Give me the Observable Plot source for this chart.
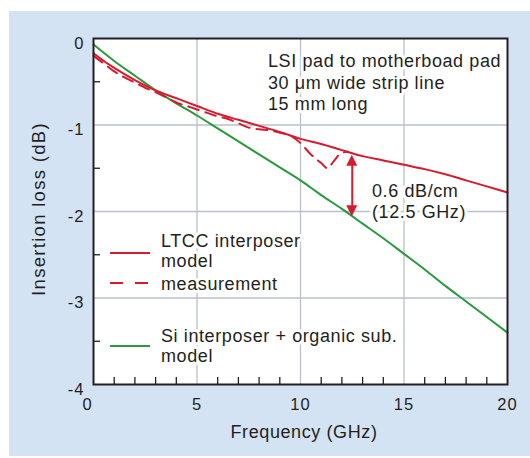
<!DOCTYPE html>
<html><head><meta charset="utf-8">
<script src="https://cdn.jsdelivr.net/npm/d3@7"></script>
<script src="https://cdn.jsdelivr.net/npm/@observablehq/plot@0.6"></script>
<style>
html,body{margin:0;padding:0;background:#fff;}
#wrap{position:relative;width:530px;height:458px;overflow:hidden;}
#panel{position:absolute;left:9px;top:11px;width:521px;height:445px;background:#d4e3f4;}
#chart{position:absolute;left:0;top:0;}
#chart svg text{letter-spacing:0.6px;}
#chart g[aria-label="x-axis tick label"] text, #chart g[aria-label="y-axis tick label"] text{letter-spacing:1px;}
</style></head><body>
<div id="wrap"><div id="panel"></div><div id="chart"></div></div>
<script>
// ---- data ----
const ltccFreq = [0,0.5,1,2,3,4,5,6,7,8,9,10,11,12,13,14,15,16,17,18,19,20];
const ltccLoss = [-0.17,-0.26,-0.34,-0.48,-0.60,-0.69,-0.78,-0.87,-0.94,-1.01,-1.08,-1.16,-1.22,-1.29,-1.36,-1.41,-1.46,-1.51,-1.57,-1.64,-1.71,-1.78];
const measFreq = [0,0.5,1,1.5,2,2.5,3,3.5,4,4.5,5,5.5,6,6.5,7,7.5,8,8.5,9,9.5,10,10.5,11,11.3,11.6,12,12.3];
const measLoss = [-0.20,-0.29,-0.38,-0.45,-0.51,-0.57,-0.62,-0.68,-0.74,-0.78,-0.82,-0.86,-0.90,-0.93,-0.98,-1.03,-1.05,-1.06,-1.09,-1.12,-1.21,-1.34,-1.44,-1.50,-1.42,-1.32,-1.31];
const siFreq = [0,1,2,3,4,5,6,7,8,9,10,11,12,13,14,15,16,17,18,19,20];
const siLoss = [-0.07,-0.26,-0.43,-0.60,-0.75,-0.89,-1.04,-1.19,-1.34,-1.49,-1.64,-1.81,-1.97,-2.14,-2.31,-2.49,-2.67,-2.86,-3.04,-3.22,-3.40];
const xTicks = [0,5,10,15,20];
const yTicks = [0,-1,-2,-3,-4];
const xGridVals = [5,10,15];
const yGridVals = [-1,-2,-3];
const xMinor = [1,2,3,4,6,7,8,9,11,12,13,14,16,17,18,19];
const yMinor = [-0.5,-1.5,-2.5,-3.5];
const arrowFreq = [12.5];
const arrowTop = [-1.35];
const arrowBottom = [-2.06];
const noteLines = ["LSI pad to motherboad pad", "30\u00a0\u03bcm wide strip line", "15 mm long"];
const arrowNote = ["0.6 dB/cm", "(12.5 GHz)"];
const legendLabels = [["LTCC interposer","model"],["measurement"],["Si interposer + organic sub.","model"]];
const xTitle = "Frequency (GHz)";
const yTitle = "Insertion loss (dB)";

const red = "#d71a2e", green = "#2a9a3c", ink = "#231f20", gridColor = "#b9c0cb";
const font = "'Liberation Sans', Arial, Helvetica, sans-serif";

const ltcc = ltccFreq.map((f,i)=>({f, v: ltccLoss[i]}));
const meas = measFreq.map((f,i)=>({f, v: measLoss[i]}));
const si = siFreq.map((f,i)=>({f, v: siLoss[i]}));
const arrow = arrowFreq.map((f,i)=>({f, top: arrowTop[i], bottom: arrowBottom[i]}));

const plot = Plot.plot({
  width: 530, height: 458,
  marginLeft: 93, marginRight: 23, marginTop: 38, marginBottom: 74,
  style: {background: "transparent", fontFamily: font, color: ink, overflow: "visible"},
  x: {domain: [0,20], label: null},
  y: {domain: [-4,0], label: null},
  marks: [
    Plot.frame({fill: "white"}),
    Plot.gridX(xGridVals, {stroke: gridColor, strokeOpacity: 1, strokeWidth: 1.3}),
    Plot.gridY(yGridVals, {stroke: gridColor, strokeOpacity: 1, strokeWidth: 1.3}),
    Plot.tickX(xMinor, {x: d=>d, stroke: ink, strokeWidth: 1.3, insetTop: 339}),
    Plot.tickY(yMinor, {y: d=>d, stroke: ink, strokeWidth: 1.3, insetRight: 407}),
    Plot.axisX(xTicks.slice(0,1), {tickSize: 0, tickPadding: 14, dx: -6, fontSize: 16.5, tickFormat: d=>String(d), fill: ink}),
    Plot.axisX(xTicks.slice(1), {tickSize: 0, tickPadding: 14, fontSize: 16.5, tickFormat: d=>String(d), fill: ink}),
    Plot.axisY(yTicks, {tickSize: 0, tickPadding: 9, dy: 5, fontSize: 16.5, tickFormat: d=>String(d), fill: ink}),
    Plot.line(si, {x: "f", y: "v", stroke: green, strokeWidth: 2, curve: "monotone-x"}),
    Plot.line(ltcc, {x: "f", y: "v", stroke: red, strokeWidth: 2, curve: "monotone-x"}),
    Plot.line(meas, {x: "f", y: "v", stroke: red, strokeWidth: 2, curve: "monotone-x", strokeDasharray: "11,7"}),
    Plot.ruleX(arrow, {x: "f", y1: "top", y2: "bottom", stroke: red, strokeWidth: 2, insetTop: 6, insetBottom: 6}),
    Plot.frame({stroke: ink, strokeWidth: 2})
  ]
});
document.getElementById("chart").appendChild(plot);

const svg = d3.select(plot);
const sx = plot.scale("x"), sy = plot.scale("y");
const g = svg.append("g");

// arrow heads via the plot's scales
arrow.forEach(a => {
  const x = sx.apply(a.f), yt = sy.apply(a.top), yb = sy.apply(a.bottom);
  g.append("path").attr("d", `M${x},${yt}L${x-5.5},${yt+11}L${x+5.5},${yt+11}Z`).attr("fill", red);
  g.append("path").attr("d", `M${x},${yb}L${x-5.5},${yb-11}L${x+5.5},${yb-11}Z`).attr("fill", red);
});

// multi-line text block as one <text> with tspans
function block(x, y, lines, lineGap, opts = {}) {
  const t = g.append("text").attr("x", x).attr("y", y)
    .attr("font-family", font).attr("font-size", opts.size || 18).attr("fill", ink)
    .attr("text-anchor", opts.anchor || "start");
  if (opts.spacing) t.style("letter-spacing", opts.spacing);
  if (opts.halo !== false) t.attr("stroke", "white").attr("stroke-width", 6).attr("stroke-linejoin", "round").attr("paint-order", "stroke");
  if (opts.transform) t.attr("transform", opts.transform);
  lines.forEach((s, i) => t.append("tspan").attr("x", x).attr("dy", i === 0 ? 0 : lineGap).text(s));
  return t;
}

// top-right note
block(268, 67, noteLines, 21.5);
// arrow note
block(372, 197, arrowNote, 21);

// legend
const legendLineY = [253, 283, 346];
const legendTextY = [246.5, 290, 341.5];
const legendStyle = [{stroke: red}, {stroke: red, dash: "13,12"}, {stroke: green}];
legendLabels.forEach((lines, i) => {
  const l = g.append("line").attr("x1", 110).attr("x2", 150).attr("y1", legendLineY[i]).attr("y2", legendLineY[i])
    .attr("stroke", legendStyle[i].stroke).attr("stroke-width", 2);
  if (legendStyle[i].dash) l.attr("stroke-dasharray", legendStyle[i].dash);
  block(161, legendTextY[i], lines, 20.5);
});

// axis titles
block(304, 438, [xTitle], 0, {anchor: "middle", halo: false});
block(0, 0, [yTitle], 0, {anchor: "middle", halo: false, spacing: "1.3px", size: 18.5, transform: "translate(45,209) rotate(-90)"});
</script>
</body></html>
